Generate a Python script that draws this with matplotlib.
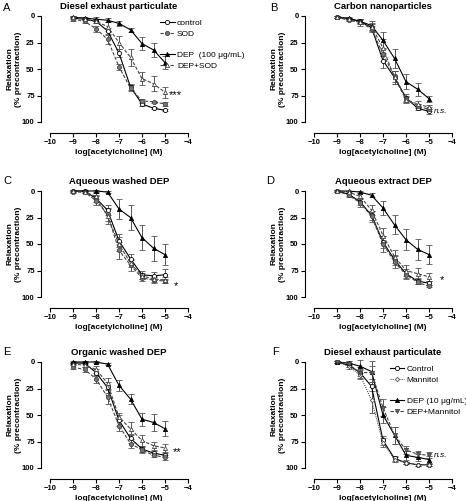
import numpy as np
import matplotlib
matplotlib.use("Agg")
import matplotlib.pyplot as plt
from matplotlib.lines import Line2D

plt.rcParams['font.family'] = ['Liberation Sans', 'DejaVu Sans']

# concentrations, log M
log_ach = [-9, -8.5, -8, -7.5, -7, -6.5, -6, -5.5, -5]

# Panel A - Diesel exhaust particulate
a_control = [2, 3, 5, 14, 35, 67, 83, 87, 89]
a_control_err = [1, 1, 2, 3, 4, 3, 2, 1, 1]
a_sod = [3, 5, 12, 22, 48, 68, 80, 81, 83]
a_sod_err = [2, 2, 3, 4, 3, 3, 2, 1, 2]
a_dep = [1, 2, 3, 4, 7, 13, 26, 32, 44]
a_dep_err = [1, 1, 2, 2, 2, 2, 6, 7, 6]
a_depsod = [1, 3, 5, 10, 25, 39, 59, 64, 72]
a_depsod_err = [1, 1, 2, 4, 6, 8, 6, 7, 5]

# Panel B - Carbon nanoparticles
b_control = [1, 3, 5, 11, 42, 58, 77, 87, 90]
b_control_err = [1, 1, 2, 3, 7, 6, 3, 2, 2]
b_sod = [1, 4, 6, 12, 36, 57, 78, 85, 88]
b_sod_err = [1, 1, 2, 3, 6, 5, 3, 2, 2]
b_dep = [1, 2, 5, 9, 23, 40, 62, 69, 78]
b_dep_err = [1, 1, 2, 4, 8, 9, 7, 6, 3]
b_depsod = [1, 3, 6, 10, 30, 58, 79, 83, 86]
b_depsod_err = [1, 1, 3, 3, 8, 6, 3, 3, 2]

# Panel C - Aqueous washed DEP
c_control = [0, 0, 7, 18, 47, 64, 79, 80, 79]
c_control_err = [1, 1, 3, 5, 6, 5, 4, 4, 5]
c_sod = [1, 1, 9, 22, 56, 70, 82, 84, 85]
c_sod_err = [1, 1, 4, 6, 8, 5, 3, 3, 2]
c_dep = [0, 0, 0, 1, 17, 25, 44, 54, 60]
c_dep_err = [0, 0, 1, 1, 9, 12, 12, 12, 10]
c_depsod = [0, 1, 5, 24, 50, 68, 80, 83, 84]
c_depsod_err = [1, 1, 3, 7, 7, 4, 3, 3, 3]

# Panel D - Aqueous extract DEP
d_control = [0, 3, 10, 23, 48, 65, 78, 85, 87]
d_control_err = [1, 2, 3, 4, 6, 5, 4, 3, 2]
d_sod = [0, 4, 11, 24, 50, 67, 79, 86, 90]
d_sod_err = [1, 2, 4, 5, 8, 6, 4, 2, 1]
d_dep = [0, 0, 1, 4, 16, 32, 46, 55, 60]
d_dep_err = [0, 0, 1, 2, 7, 9, 10, 10, 9]
d_depsod = [0, 1, 5, 18, 42, 62, 75, 78, 81]
d_depsod_err = [1, 1, 3, 5, 7, 6, 5, 5, 4]

# Panel E - Organic washed DEP
e_control = [1, 1, 10, 24, 55, 72, 82, 86, 88]
e_control_err = [1, 1, 3, 5, 5, 4, 3, 2, 2]
e_sod = [5, 7, 16, 33, 60, 77, 83, 88, 90]
e_sod_err = [2, 2, 4, 7, 5, 4, 3, 2, 2]
e_dep = [0, 0, 0, 2, 22, 35, 54, 57, 63]
e_dep_err = [1, 1, 1, 1, 5, 5, 6, 8, 7]
e_depsod = [2, 3, 7, 20, 52, 63, 74, 79, 81]
e_depsod_err = [1, 2, 3, 5, 4, 6, 5, 4, 4]

# Panel F - Diesel exhaust particulate, mannitol
f_control = [0, 3, 10, 23, 74, 91, 95, 97, 97]
f_control_err = [1, 2, 3, 4, 4, 2, 1, 1, 1]
f_mannitol = [0, 4, 12, 36, 76, 92, 95, 97, 97]
f_mannitol_err = [1, 3, 4, 12, 4, 2, 1, 1, 1]
f_dep = [0, 1, 4, 9, 50, 69, 88, 90, 92]
f_dep_err = [1, 2, 6, 10, 8, 8, 4, 3, 3]
f_depman = [0, 2, 10, 10, 43, 69, 83, 87, 88]
f_depman_err = [1, 3, 5, 6, 8, 8, 4, 3, 3]

titles = ["Diesel exhaust particulate", "Carbon nanoparticles", "Aqueous washed DEP",
          "Aqueous extract DEP", "Organic washed DEP", "Diesel exhaust particulate"]
letters = ["A", "B", "C", "D", "E", "F"]
labels_sod = ["control", "SOD", "DEP  (100 \u03bcg/mL)", "DEP+SOD"]
labels_man = ["Control", "Mannitol", "DEP (10 \u03bcg/mL)", "DEP+Mannitol"]
signif = ["***", "n.s.", "*", "*", "**", "n.s."]
signif_x = [-4.85, -4.8, -4.6, -4.55, -4.65, -4.8]
signif_y = [72, 90, 87, 81, 82, 88]

W, H = 466, 501
fig = plt.figure(figsize=(W / 100, H / 100), dpi=100)

# (left, top) in pixels of each data area
boxes = [(50, 16), (314, 16), (50, 191), (314, 191), (50, 362), (314, 362)]
bw, bh = 138, 106

style_sod = [
    dict(marker='o', mfc='white', mec='black', color='black', ls='-'),
    dict(marker='o', mfc='#777777', mec='#444444', color='#444444', ls=(0, (3, 1.5))),
    dict(marker='^', mfc='black', mec='black', color='black', ls='-'),
    dict(marker='^', mfc='white', mec='#444444', color='#444444', ls=(0, (3, 1.5))),
]
style_man = [
    dict(marker='o', mfc='white', mec='black', color='black', ls='-'),
    dict(marker='D', mfc='white', mec='#555555', color='#555555', ls=(0, (1, 1)), ms=2.2),
    dict(marker='^', mfc='black', mec='black', color='black', ls='-'),
    dict(marker='v', mfc='#666666', mec='#444444', color='#444444', ls=(0, (3, 1.5))),
]

panels = [
    [(a_control, a_control_err), (a_sod, a_sod_err), (a_dep, a_dep_err), (a_depsod, a_depsod_err)],
    [(b_control, b_control_err), (b_sod, b_sod_err), (b_dep, b_dep_err), (b_depsod, b_depsod_err)],
    [(c_control, c_control_err), (c_sod, c_sod_err), (c_dep, c_dep_err), (c_depsod, c_depsod_err)],
    [(d_control, d_control_err), (d_sod, d_sod_err), (d_dep, d_dep_err), (d_depsod, d_depsod_err)],
    [(e_control, e_control_err), (e_sod, e_sod_err), (e_dep, e_dep_err), (e_depsod, e_depsod_err)],
    [(f_control, f_control_err), (f_mannitol, f_mannitol_err), (f_dep, f_dep_err), (f_depman, f_depman_err)],
]

letter_pos = [(3, 3), (270, 3), (3, 176), (266, 176), (3, 347), (272, 347)]
ylabel_x = [14, 278, 14, 278, 14, 278]

for i, (left, top) in enumerate(boxes):
    ax = fig.add_axes([left / W, 1 - (top + bh) / H, bw / W, bh / H])
    styles = style_man if i == 5 else style_sod
    labels = labels_man if i == 5 else labels_sod
    handles = []
    for (vals, err), st, lab in zip(panels[i], styles, labels):
        st = dict(st)
        ms = st.pop('ms', 3)
        ax.errorbar(log_ach, vals, yerr=err, ecolor='#555555', elinewidth=0.7,
                    capsize=2, capthick=0.7, lw=0.8, ms=ms, mew=0.6,
                    clip_on=False, zorder=3, **st)
        handles.append(Line2D([], [], lw=0.8, ms=ms, mew=0.6, **st))

    ax.set_xlim(-10, -4)
    ax.set_ylim(100, 0)
    ax.set_xticks(np.arange(-10, -3, 1))
    ax.set_yticks([0, 25, 50, 75, 100])
    for s in ['top', 'right']:
        ax.spines[s].set_visible(False)
    ax.spines['left'].set_position(('outward', 6.5))
    ax.spines['bottom'].set_position(('outward', 8))
    for s in ['left', 'bottom']:
        ax.spines[s].set_linewidth(0.8)
    ax.tick_params(width=0.8, length=3, labelsize=5.5, pad=1.5)
    for t in ax.get_xticklabels() + ax.get_yticklabels():
        t.set_fontweight('bold')
    ax.set_title(titles[i], fontsize=6.8, fontweight='bold', pad=5)
    ax.set_xlabel("log[acetylcholine] (M)", fontsize=6, fontweight='bold', labelpad=2)
    fig.text(ylabel_x[i] / W, 1 - (top + bh / 2) / H, "Relaxation\n(% precontraction)",
             fontsize=6, fontweight='bold', rotation=90, ha='center', va='center',
             linespacing=1.3, multialignment='center')
    if signif[i] == 'n.s.':
        ax.text(signif_x[i], signif_y[i], signif[i], fontsize=6, fontstyle='italic',
                ha='left', va='center', clip_on=False)
    else:
        ax.text(signif_x[i], signif_y[i] + 3, signif[i], fontsize=8,
                ha='left', va='center', clip_on=False)

    fig.text(letter_pos[i][0] / W, 1 - letter_pos[i][1] / H, letters[i],
             fontsize=8, ha='left', va='top')

    if i in (0, 5):
        blank = Line2D([], [], ls='none')
        leg = ax.legend(handles[:2] + [blank] + handles[2:], labels[:2] + [''] + labels[2:],
                        loc='upper left', bbox_to_anchor=(0.8, 0.97) if i == 0 else (0.55, 0.97),
                        frameon=False, fontsize=6, handlelength=1.7, handletextpad=0.3,
                        labelspacing=0.35, borderaxespad=0, borderpad=0)
        leg.set_clip_on(False)

fig.savefig("out.png", dpi=100)
